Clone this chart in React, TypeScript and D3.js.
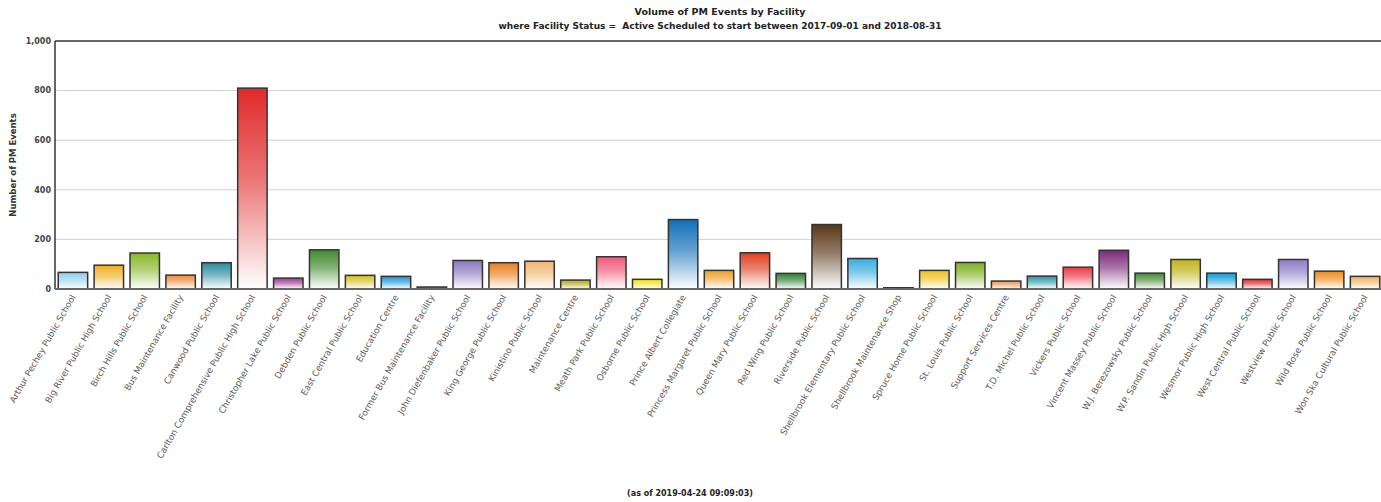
import React from "react";
import * as d3 from "d3";

const facilities: string[] = [
  "Arthur Pechey Public School",
  "Big River Public High School",
  "Birch Hills Public School",
  "Bus Maintenance Facility",
  "Canwood Public School",
  "Carlton Comprehensive Public High School",
  "Christopher Lake Public School",
  "Debden Public School",
  "East Central Public School",
  "Education Centre",
  "Former Bus Maintenance Facility",
  "John Diefenbaker Public School",
  "King George Public School",
  "Kinistino Public School",
  "Maintenance Centre",
  "Meath Park Public School",
  "Osborne Public School",
  "Prince Albert Collegiate",
  "Princess Margaret Public School",
  "Queen Mary Public School",
  "Red Wing Public School",
  "Riverside Public School",
  "Shellbrook Elementary Public School",
  "Shellbrook Maintenance Shop",
  "Spruce Home Public School",
  "St. Louis Public School",
  "Support Services Centre",
  "T.D. Michel Public School",
  "Vickers Public School",
  "Vincent Massey Public School",
  "W.J. Berezowsky Public School",
  "W.P. Sandin Public High School",
  "Wesmor Public High School",
  "West Central Public School",
  "Westview Public School",
  "Wild Rose Public School",
  "Won Ska Cultural Public School",
];

const pmEvents: number[] = [
  67, 96, 145, 56, 106, 810, 44, 158, 55, 51, 8, 115, 106, 112, 36, 130, 39,
  280, 75, 146, 63, 260, 123, 5, 75, 107, 32, 52, 88, 156, 64, 119, 64, 39,
  119, 72, 51,
];

const barColors: string[] = [
  "#8fd0f0", "#f0b020", "#88b828", "#f08a3c", "#2a8c9c", "#e02a2a",
  "#a03a90", "#3f8a2c", "#d4c020", "#1898d8", "#b04848", "#8878c0",
  "#e88020", "#f0b870", "#b0a818", "#f05878", "#f0e010", "#1070b8",
  "#f0a028", "#e04020", "#2a8030", "#5a3818", "#38ace0", "#8890a0",
  "#f0c018", "#80b020", "#f09850", "#2898a8", "#e83c48", "#7a2a7a",
  "#468a34", "#c0b418", "#0c9cd8", "#d83030", "#8c7cc8", "#f08c18",
  "#f0b060",
];

const yTicks: number[] = [0, 200, 400, 600, 800, 1000];

const titleText = "Volume of PM Events by Facility";
const subtitleText =
  "where Facility Status =  Active Scheduled to start between 2017-09-01 and 2018-08-31";
const yAxisTitle = "Number of PM Events";
const footerText = "(as of 2019-04-24 09:09:03)";

const W = 1381;
const H = 502;
const M = { left: 55, right: -2, top: 41, bottom: 213 };
const FONT = "'DejaVu Sans', Verdana, sans-serif";

export default function App() {
  const x = d3
    .scaleBand<string>()
    .domain(facilities)
    .range([M.left, W - M.right])
    .paddingInner(0.18)
    .paddingOuter(0.09);
  const y = d3
    .scaleLinear()
    .domain([0, 1000])
    .range([H - M.bottom, M.top]);
  const fmt = d3.format(",");
  const y0 = y(0);

  return (
    <svg
      width={W}
      height={H}
      style={{ position: "absolute", left: 0, top: 0, background: "#fff" }}
      fontFamily={FONT}
    >
      <defs>
        {barColors.map((c, i) => (
          <linearGradient key={i} id={`g${i}`} x1="0" y1="0" x2="0" y2="1">
            <stop offset="0%" stopColor={c} />
            <stop offset="45%" stopColor={d3.interpolateRgb(c, "#fff")(0.35)} />
            <stop offset="100%" stopColor="#ffffff" />
          </linearGradient>
        ))}
      </defs>

      <text x={720} y={15} textAnchor="middle" fontSize={9.5} fontWeight="bold" fill="#222">
        {titleText}
      </text>
      <text
        x={720}
        y={29}
        textAnchor="middle"
        fontSize={9}
        fontWeight="bold"
        fill="#222"
        style={{ whiteSpace: "pre" }}
      >
        {subtitleText}
      </text>

      {yTicks
        .filter((t) => t > 0 && t < 1000)
        .map((t) => (
          <line key={t} x1={M.left} x2={W} y1={y(t)} y2={y(t)} stroke="#d0d0d0" strokeWidth={1} />
        ))}

      {yTicks.map((t) => (
        <text
          key={t}
          x={M.left - 4}
          y={y(t)}
          dy="0.35em"
          textAnchor="end"
          fontSize={8}
          fontWeight="bold"
          fill="#444"
        >
          {fmt(t)}
        </text>
      ))}

      <text
        transform={`translate(16,${(y(0) + y(1000)) / 2}) rotate(-90)`}
        textAnchor="middle"
        fontSize={8.5}
        fontWeight="bold"
        fill="#333"
      >
        {yAxisTitle}
      </text>

      {facilities.map((f, i) => {
        const bx = x(f)!;
        const yt = y(pmEvents[i]);
        return (
          <rect
            key={f}
            x={bx}
            y={yt}
            width={x.bandwidth()}
            height={y0 - yt}
            fill={`url(#g${i})`}
            stroke="#333"
            strokeWidth={1.5}
          />
        );
      })}

      <line x1={M.left} x2={W} y1={M.top} y2={M.top} stroke="#333" strokeWidth={1.5} />
      <line x1={M.left} x2={M.left} y1={M.top} y2={y0} stroke="#333" strokeWidth={1.5} />
      <line x1={M.left} x2={W} y1={y0} y2={y0} stroke="#666" strokeWidth={2} />

      {facilities.map((f) => {
        const cx = x(f)! + x.bandwidth() / 2;
        return (
          <text
            key={f}
            transform={`translate(${cx + 3},${y0 + 8}) rotate(-60)`}
            textAnchor="end"
            fontSize={8.8}
            fill="#5a5a5a"
          >
            {f}
          </text>
        );
      })}

      <text x={690} y={496} textAnchor="middle" fontSize={8} fontWeight="bold" fill="#222">
        {footerText}
      </text>
    </svg>
  );
}
